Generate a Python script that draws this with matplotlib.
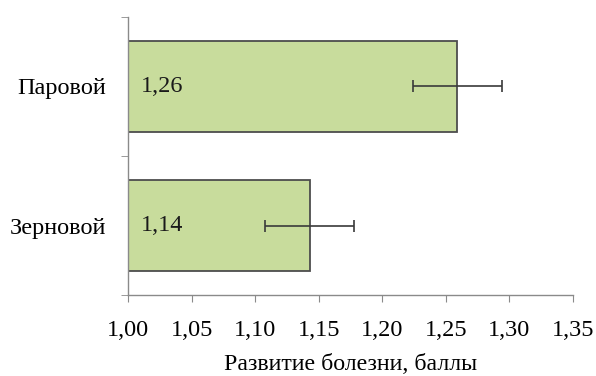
import numpy as np
import matplotlib.pyplot as plt
from matplotlib.ticker import FuncFormatter

# data
categories = ['Зерновой', 'Паровой']
values = [1.143, 1.259]
errors = [0.035, 0.035]
value_labels = ['1,14', '1,26']
x_ticks = [1.00, 1.05, 1.10, 1.15, 1.20, 1.25, 1.30, 1.35]

plt.rcParams['font.family'] = ['Liberation Serif', 'DejaVu Serif']

fig = plt.figure(figsize=(5.96, 3.76), dpi=100)
ax = fig.add_axes([0.2148, 0.2154, 0.7466, 0.7394])

pos = np.arange(len(categories))
ax.barh(pos, [v - 1.0 for v in values], left=1.0, height=0.66,
        color='#c8dc9c', edgecolor='#4d4d4d', linewidth=1.3)
ax.errorbar(values, pos, xerr=errors, fmt='none', ecolor='#3a3a3a',
            elinewidth=1.2, capsize=4, capthick=1.2)

for p, lab in zip(pos, value_labels):
    ax.text(1.01, p, lab, ha='left', va='center', fontsize=17.5, color='#1a1a1a')

ax.set_xlim(1.0, 1.35)
ax.set_ylim(-0.5, 1.5)
ax.set_xticks(x_ticks)
ax.xaxis.set_major_formatter(FuncFormatter(lambda v, _: '{:.2f}'.format(v).replace('.', ',')))
ax.set_yticks(pos)
ax.set_yticklabels(categories)
ax.set_yticks([-0.5, 0.5, 1.5], minor=True)
ax.tick_params(axis='y', which='major', length=0, pad=16, labelsize=17.5)
ax.tick_params(axis='y', which='minor', length=5, color='#8a8a8a')
ax.tick_params(axis='x', length=5, color='#8a8a8a', labelsize=17.5, pad=13)
ax.set_xlabel('Развитие болезни, баллы', fontsize=17.2, labelpad=9)

for s in ['top', 'right']:
    ax.spines[s].set_visible(False)
for s in ['left', 'bottom']:
    ax.spines[s].set_color('#8a8a8a')
    ax.spines[s].set_linewidth(1.0)

fig.savefig('out.png', dpi=100)
